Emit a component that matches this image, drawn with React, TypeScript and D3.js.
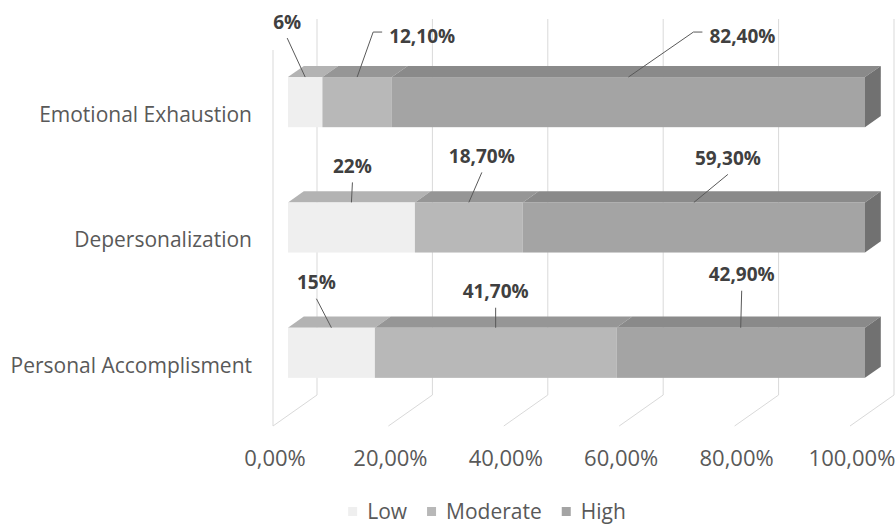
import React, { useRef, useEffect } from 'react';
import * as d3 from 'd3';

const categories = ['Emotional Exhaustion', 'Depersonalization', 'Personal Accomplisment'];
const seriesNames = ['Low', 'Moderate', 'High'];
const lowValues = [6, 22, 15];
const moderateValues = [12.1, 18.7, 41.7];
const highValues = [82.4, 59.3, 42.9];
const labelDecimals = [0, 2, 2];
const xTicks = [0, 0.2, 0.4, 0.6, 0.8, 1];

// where each data label sits, relative to the top front edge of its segment
const labelOffsets = [
  [{ dx: -18, dy: -55 }, { dx: 16, dy: -45, elbow: true }, { dx: 65, dy: -45, elbow: true }],
  [{ dx: 1, dy: -36 }, { dx: 13, dy: -46 }, { dx: 34, dy: -44 }],
  [{ dx: -15, dy: -45 }, { dx: 0, dy: -36 }, { dx: 1, dy: -53 }],
];

const frontColors = ['#efefef', '#b8b8b8', '#a4a4a4'];
const topColors = ['#b3b3b3', '#969696', '#8a8a8a'];
const sideColor = '#717171';
const FONT = "'Open Sans', sans-serif";

const comma = d3.formatLocale({ decimal: ',', thousands: '.', grouping: [3], currency: ['', ''] });

const App: React.FC = () => {
  const svgRef = useRef<SVGSVGElement>(null);

  useEffect(() => {
    const svg = d3.select(svgRef.current);
    svg.selectAll('*').remove();

    const width = 896;
    const height = 525;
    const frontTop = 50;
    const frontBottom = 426;
    const depthX = 44;
    const depthY = -31;
    const barNear = 0.34;
    const barFar = 0.7;

    const xScale = d3.scaleLinear().domain([0, 1]).range([273, 850]);
    const yScale = d3.scaleBand<string>()
      .domain(categories)
      .range([frontTop, frontBottom])
      .paddingInner(0.6)
      .paddingOuter(0.3);

    const proj = (x: number, y: number, t: number): [number, number] => [x + t * depthX, y + t * depthY];

    svg.attr('width', width).attr('height', height);

    // back wall gridlines + floor diagonals
    const grid = svg.append('g').attr('stroke', '#d9d9d9').attr('stroke-width', 1).attr('fill', 'none');
    xTicks.forEach(t => {
      const fx = xScale(t);
      const [bx, bTop] = proj(fx, frontTop, 1);
      const [, bBot] = proj(fx, frontBottom, 1);
      grid.append('line').attr('x1', bx).attr('x2', bx).attr('y1', bTop).attr('y2', bBot);
      grid.append('line').attr('x1', bx).attr('y1', bBot).attr('x2', fx).attr('y2', frontBottom);
    });
    // side wall front edge
    grid.append('line')
      .attr('x1', xScale(0)).attr('x2', xScale(0))
      .attr('y1', frontTop).attr('y2', frontBottom);

    // tick labels
    const tickFmt = comma.format('.2%');
    svg.append('g')
      .selectAll('text')
      .data(xTicks)
      .enter().append('text')
      .attr('x', d => xScale(d) + 2)
      .attr('y', 458)
      .attr('dy', '0.35em')
      .attr('text-anchor', 'middle')
      .style('font-family', FONT)
      .style('font-size', '22px')
      .style('fill', '#595959')
      .text(d => tickFmt(d));

    // category labels
    svg.append('g')
      .selectAll('text')
      .data(categories)
      .enter().append('text')
      .attr('x', 252)
      .attr('y', d => (yScale(d) ?? 0) + yScale.bandwidth() / 2)
      .attr('dy', '0.45em')
      .attr('text-anchor', 'end')
      .style('font-family', FONT)
      .style('font-size', '21px')
      .style('fill', '#595959')
      .text(d => d);

    const series = [lowValues, moderateValues, highValues];
    const poly = (pts: [number, number][]) => 'M' + pts.map(p => p.join(',')).join('L') + 'Z';

    const bars = svg.append('g');
    const labels = svg.append('g');

    categories.forEach((cat, i) => {
      const vals = series.map(s => s[i]);
      const total = d3.sum(vals);
      const yTop = yScale(cat) ?? 0;
      const yBot = yTop + yScale.bandwidth();
      let acc = 0;
      vals.forEach((v, j) => {
        const x0 = xScale(acc / total);
        acc += v;
        const x1 = xScale(acc / total);

        const top = [proj(x0, yTop, barNear), proj(x1, yTop, barNear), proj(x1, yTop, barFar), proj(x0, yTop, barFar)] as [number, number][];
        bars.append('path').attr('d', poly(top)).attr('fill', topColors[j]);

        const [fx0, fy0] = proj(x0, yTop, barNear);
        const [fx1, fy1] = proj(x1, yBot, barNear);
        bars.append('rect')
          .attr('x', fx0).attr('y', fy0)
          .attr('width', fx1 - fx0).attr('height', fy1 - fy0)
          .attr('fill', frontColors[j]);

        if (j === vals.length - 1) {
          const side = [proj(x1, yTop, barNear), proj(x1, yTop, barFar), proj(x1, yBot, barFar), proj(x1, yBot, barNear)] as [number, number][];
          bars.append('path').attr('d', poly(side)).attr('fill', sideColor);
        }

        // data label with leader line
        const [ax, ay] = proj((x0 + x1) / 2, yTop, barNear);
        const off = labelOffsets[i][j];
        const txt = comma.format(`.${labelDecimals[j]}f`)(v) + '%';
        if (off.elbow) {
          const cx = ax + off.dx;
          const cy = ay + off.dy;
          labels.append('path')
            .attr('d', `M${ax},${ay}L${cx},${cy}L${cx + 9},${cy}`)
            .attr('fill', 'none')
            .attr('stroke', '#595959')
            .attr('stroke-width', 1);
          labels.append('text')
            .attr('x', cx + 16).attr('y', cy + 4)
            .attr('dy', '0.35em')
            .attr('text-anchor', 'start')
            .style('font-family', FONT).style('font-size', '19px').style('font-weight', 'bold')
            .style('fill', '#404040')
            .text(txt);
        } else {
          const lx = ax + off.dx;
          const ly = ay + off.dy;
          labels.append('line')
            .attr('x1', ax).attr('y1', ay)
            .attr('x2', lx).attr('y2', ly + 16)
            .attr('stroke', '#595959')
            .attr('stroke-width', 1);
          labels.append('text')
            .attr('x', lx).attr('y', ly)
            .attr('dy', '0.35em')
            .attr('text-anchor', 'middle')
            .style('font-family', FONT).style('font-size', '19px').style('font-weight', 'bold')
            .style('fill', '#404040')
            .text(txt);
        }
      });
    });

    // legend
    const legend = svg.append('g');
    const items = seriesNames.map((name, j) => {
      const g = legend.append('g');
      g.append('rect').attr('width', 9).attr('height', 9).attr('y', -5).attr('fill', frontColors[j]);
      const t = g.append('text')
        .attr('x', 19)
        .attr('dy', '0.35em')
        .style('font-family', FONT)
        .style('font-size', '21px')
        .style('fill', '#595959')
        .text(name);
      const w = 19 + ((t.node() as SVGTextElement).getComputedTextLength?.() ?? 40);
      return { g, w };
    });
    const gap = 20;
    const totalW = d3.sum(items, d => d.w) + gap * (items.length - 1);
    let lx = 487 - totalW / 2;
    items.forEach(it => {
      it.g.attr('transform', `translate(${lx},512)`);
      lx += it.w + gap;
    });
  }, []);

  return <svg ref={svgRef} width="896" height="525" style={{ position: 'absolute', left: 0, top: 0, background: '#fff' }}></svg>;
};

export default App;
